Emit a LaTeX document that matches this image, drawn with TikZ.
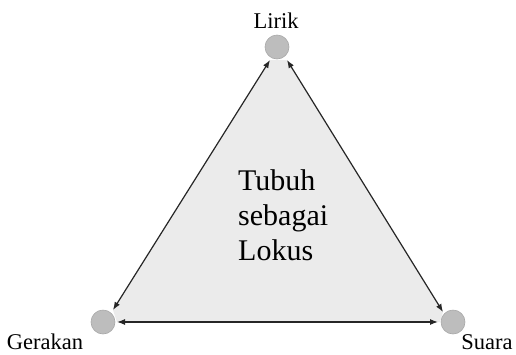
\documentclass[tikz,border=0pt]{standalone}
\usepackage{fontspec}
\setmainfont{Liberation Serif}
\usetikzlibrary{arrows.meta}
\definecolor{areafill}{HTML}{EBEBEB}
\definecolor{dotfill}{HTML}{BDBDBD}
\definecolor{dotline}{HTML}{A8A8A8}
\definecolor{linkcol}{HTML}{262626}
\tikzset{
  dot/.style={circle, fill=dotfill, draw=dotline, line width=0.6pt, minimum size=24pt, inner sep=0pt},
  lbl/.style={font=\fontsize{22.5}{26}\selectfont, inner sep=0pt},
  link/.style={{Latex[length=8pt,width=6pt]}-{Latex[length=8pt,width=6pt]}, draw=linkcol, line width=1.2pt},
}
\begin{document}
\begin{tikzpicture}[x=1pt,y=-1pt]
\useasboundingbox (0,0) rectangle (516,354);
% shaded body of the triangle
\fill[areafill] (270,60) -- (287,60) -- (443,312) -- (440,322) -- (117,322) -- (113,310) -- cycle;
% corner points
\node[dot] (lirik) at (277,47) {};
\node[dot] (gerakan) at (103,322) {};
\node[dot] (suara) at (453,322) {};
% end points of the connectors
\coordinate (lA) at (270,60);
\coordinate (lB) at (287,60);
\coordinate (gA) at (113,310);
\coordinate (gB) at (117,322);
\coordinate (sA) at (443,312);
\coordinate (sB) at (438,322);
\draw[link] (lA) -- (gA);
\draw[link] (lB) -- (sA);
\draw[link] (gB) -- (sB);
% labels
\node[lbl, anchor=base] (tLirik) at (276,28) {Lirik};
\node[lbl, anchor=base] (tGerakan) at (45,349) {Gerakan};
\node[lbl, anchor=base] (tSuara) at (487,349) {Suara};
\node[anchor=north west, inner sep=0pt, align=left, font=\fontsize{30}{35}\selectfont] (center) at (238,169) {Tubuh\\sebagai\\Lokus};
\end{tikzpicture}
\end{document}
